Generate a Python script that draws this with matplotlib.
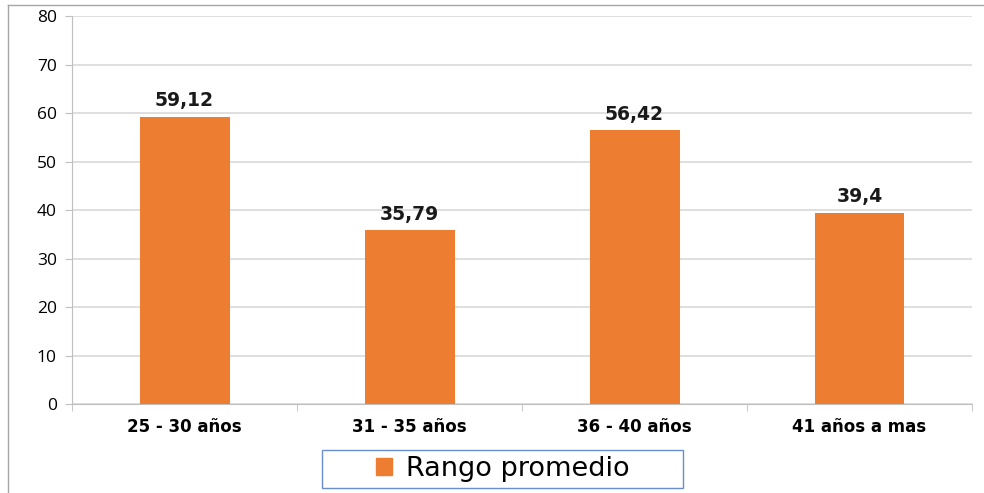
import matplotlib.pyplot as plt
from matplotlib.lines import Line2D

categorias = ['25 - 30 años', '31 - 35 años', '36 - 40 años', '41 años a mas']
valores = [59.12, 35.79, 56.42, 39.4]
etiquetas = ['59,12', '35,79', '56,42', '39,4']

plt.rcParams['font.family'] = ['Open Sans', 'DejaVu Sans']

fig = plt.figure(figsize=(9.84, 4.93), dpi=100)
ax = fig.add_axes([0.0732, 0.1805, 0.9146, 0.787])

x = range(len(categorias))
ax.bar(x, valores, width=0.4, color='#ED7D31', zorder=3)
for xi, v, t in zip(x, valores, etiquetas):
    ax.text(xi, v + 1.4, t, ha='center', va='bottom', fontsize=13.5, fontweight='bold',
            color='#1a1a1a', family='DejaVu Sans')

ax.set_xlim(-0.5, len(categorias) - 0.5)
ax.set_ylim(0, 80)
ax.set_yticks(range(0, 81, 10))
ax.yaxis.grid(True, color='#D9D9D9', linewidth=1.2, zorder=0)
ax.set_xticks(list(x))
ax.set_xticklabels(categorias, fontsize=12, fontweight='bold', family='DejaVu Sans')
ax.set_xticks([i + 0.5 for i in range(-1, len(categorias))], minor=True)
ax.tick_params(axis='x', which='major', length=0, pad=10)
ax.tick_params(axis='x', which='minor', length=5, color='#BFBFBF')
ax.tick_params(axis='y', length=5, color='#BFBFBF', labelsize=12.5, pad=6)
for s in ['top', 'right']:
    ax.spines[s].set_visible(False)
ax.spines['left'].set_color('#BFBFBF')
ax.spines['bottom'].set_color('#BFBFBF')

# marco exterior
fig.add_artist(Line2D([8 / 984, 8 / 984], [0, 1 - 5 / 493], color='#A6A6A6', lw=1))
fig.add_artist(Line2D([8 / 984, 1], [1 - 5 / 493, 1 - 5 / 493], color='#A6A6A6', lw=1))

leg = fig.legend(handles=[plt.Rectangle((0, 0), 1, 1, color='#ED7D31')], labels=['Rango promedio'],
                 loc='center', bbox_to_anchor=(0.5107, 0.0487), frameon=True,
                 prop={'family': 'DejaVu Sans', 'size': 19.5},
                 fancybox=False, handlelength=0.6, handleheight=0.6, borderpad=0.22,
                 handletextpad=0.5, borderaxespad=0)
leg.get_frame().set_edgecolor('#4472C4')
leg.get_frame().set_linewidth(1)
leg._legend_box.set_width(350)

fig.savefig('out.png', dpi=100)
